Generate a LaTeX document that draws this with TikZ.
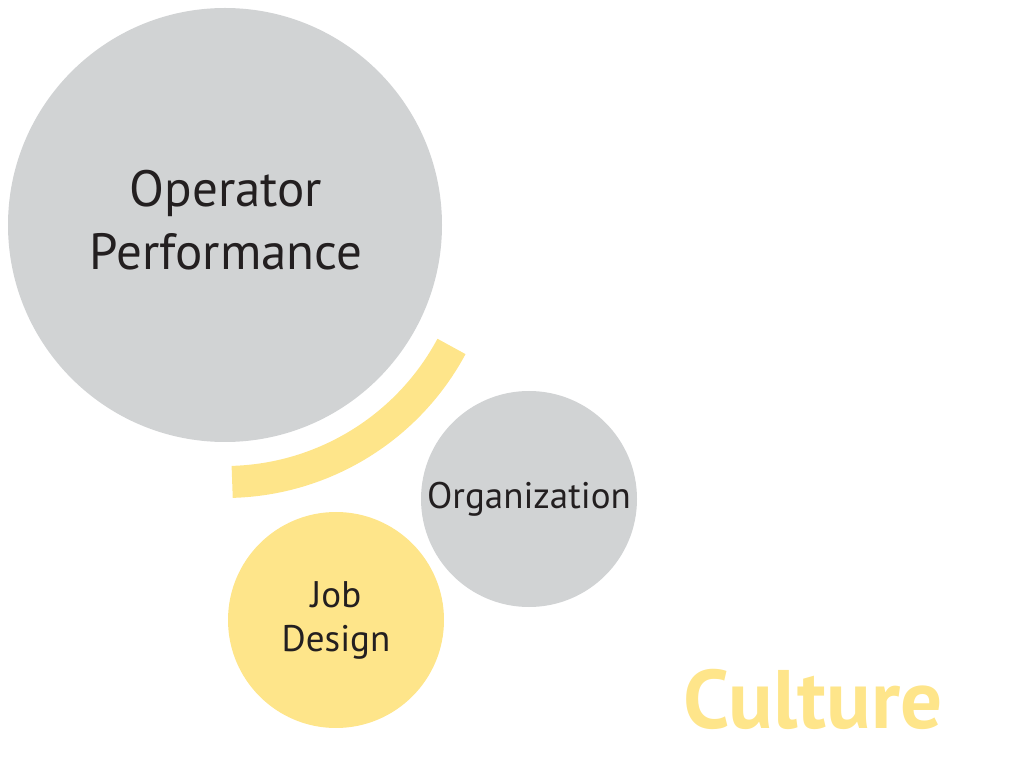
\documentclass[tikz,border=0pt]{standalone}
\usepackage{fontspec}
\setmainfont{PT Sans}
\usepackage{tikz}
\usetikzlibrary{positioning}
\definecolor{bubblegray}{HTML}{D1D3D4}
\definecolor{bubbleyellow}{HTML}{FEE58A}
\definecolor{inkdark}{HTML}{231F20}

\begin{document}
\begin{tikzpicture}[
  x=1pt, y=1pt,
  bubble/.style={circle,inner sep=0pt,text=inkdark,align=center},
  band/.style={bubbleyellow,line width=32pt,line cap=butt}
]
  \useasboundingbox (0,0) rectangle (1009,769);

  \node[bubble,fill=bubblegray,minimum size=434pt] (op) at (225,544) {};
  \node[text=inkdark,align=center,font=\fontsize{51}{63}\selectfont] (optext) at (226,549)
    {Operator\\Performance};
  \node[bubble,fill=bubblegray,minimum size=216pt,font=\fontsize{37}{44}\selectfont] (org) at (529,270)
    {Organization};
  \node[bubble,fill=bubbleyellow,minimum size=216pt,font=\fontsize{37}{44}\selectfont] (job) at (336,149)
    {Job\\Design};

  \draw[band] (op.center) ++(-88.4:257) arc[start angle=-88.4, end angle=-28.2, radius=257];

  \node[text=bubbleyellow,font=\bfseries\fontsize{83}{83}\selectfont,inner sep=0pt,anchor=base] (cult) at (813,41) {Culture};
\end{tikzpicture}
\end{document}
